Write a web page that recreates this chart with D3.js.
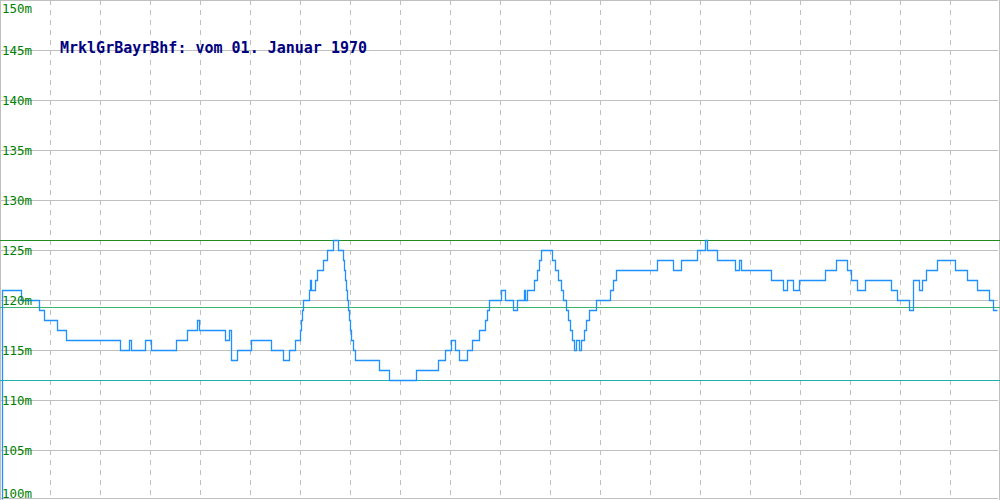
<!DOCTYPE html>
<html><head><meta charset="utf-8">
<script src="https://cdn.jsdelivr.net/npm/d3@7"></script>
<style>body{margin:0;background:#fff}svg{display:block}</style>
</head><body>
<script>
// ---- data ----
const title = "MrklGrBayrBhf: vom 01. Januar 1970";
const yTicks = [100,105,110,115,120,125,130,135,140,145,150];
const xGrid = [50,100,150,200,250,300,350,400,450,500,550,600,650,700,750,800,850,900,950];
const maxHeight = 126, meanHeight = 119.3, minHeight = 112;
// sample position where each step starts, and altitude (m) of that step
const samples = [2,2,21,39,44,57,66,120,129,131,145,151,176,187,197,199,225,229,231,237,251,271,283,289,295,300,301,302,303,309,310,311,315,317,323,327,333,338,343,344,345,346,347,348,349,350,351,353,355,379,389,416,438,445,451,455,459,467,472,479,485,487,489,501,505,513,517,524,525,527,534,537,539,541,552,555,558,561,563,566,568,570,572,574,576,579,581,584,586,589,596,610,613,616,657,673,681,697,705,707,717,735,739,741,771,783,787,793,799,825,836,847,851,857,865,891,897,909,913,919,922,926,937,955,967,977,989,993,997];
const altitude = [100,121,120,119,118,117,116,115,116,115,116,115,116,117,118,117,116,117,114,115,116,115,114,115,116,117,118,119,120,121,122,121,122,123,124,125,126,125,124,123,122,121,120,119,118,117,116,115,114,113,112,113,114,115,116,115,114,115,116,117,118,119,120,121,120,119,120,121,120,121,122,123,124,125,124,123,122,121,120,119,118,117,116,115,116,115,116,117,118,119,120,121,122,123,124,123,124,125,126,125,124,123,124,123,122,121,122,121,122,123,124,123,122,121,122,121,120,119,122,121,122,123,124,123,122,121,120,119,119];

const W = 1000, H = 500;
const svg = d3.select("body").append("svg").attr("width", W).attr("height", H);
const x = d3.scaleLinear().domain([0, 1000]).range([0, 1000]);
const y = d3.scaleLinear().domain([100, 150]).range([500, 0]);
const px = v => Math.round(v) + 0.5;

// horizontal gridlines
svg.append("g").selectAll("line").data(yTicks).join("line")
  .attr("x1", 0).attr("x2", 998)
  .attr("y1", d => px(Math.min(y(d), 498))).attr("y2", d => px(Math.min(y(d), 498)))
  .attr("stroke", "#c0c0c0").attr("shape-rendering", "crispEdges");

// vertical dashed gridlines
svg.append("g").selectAll("line").data(xGrid).join("line")
  .attr("x1", d => px(x(d))).attr("x2", d => px(x(d)))
  .attr("y1", 0).attr("y2", 500)
  .attr("stroke", "#c0c0c0").attr("stroke-dasharray", "5,5").attr("shape-rendering", "crispEdges");

// frame left/right
svg.append("line").attr("x1", 0.5).attr("x2", 0.5).attr("y1", 0).attr("y2", 500)
  .attr("stroke", "#c0c0c0").attr("shape-rendering", "crispEdges");
svg.append("line").attr("x1", 999.5).attr("x2", 999.5).attr("y1", 0).attr("y2", 500)
  .attr("stroke", "#c0c0c0").attr("shape-rendering", "crispEdges");

// reference lines
[[maxHeight, "#228b22"], [meanHeight, "#3cb371"], [minHeight, "#20b2aa"]].forEach(([v, c]) => {
  svg.append("line").attr("x1", 0).attr("x2", 1000)
    .attr("y1", px(y(v))).attr("y2", px(y(v)))
    .attr("stroke", c).attr("shape-rendering", "crispEdges");
});

// altitude profile
const pts = samples.map((s, i) => [s, altitude[i]]);
svg.append("path").datum(pts)
  .attr("d", d3.line().x(d => px(x(d[0]))).y(d => px(Math.min(y(d[1]), 499))).curve(d3.curveStepAfter))
  .attr("fill", "none").attr("stroke", "#1e90ff").attr("stroke-width", 1.3);

// y labels
svg.append("g").selectAll("text").data(yTicks).join("text")
  .attr("x", 2)
  .attr("y", d => Math.max(13, Math.min(498, y(d) + 4.5)))
  .attr("fill", "#008000")
  .attr("font-family", "DejaVu Sans Mono, monospace")
  .attr("font-size", 12.5)
  .text(d => d + "m");

// title
svg.append("text").attr("x", 60).attr("y", 53)
  .attr("fill", "#000080").attr("font-family", "DejaVu Sans Mono, monospace")
  .attr("font-size", 15).attr("font-weight", "bold")
  .text(title);
</script>
</body></html>
